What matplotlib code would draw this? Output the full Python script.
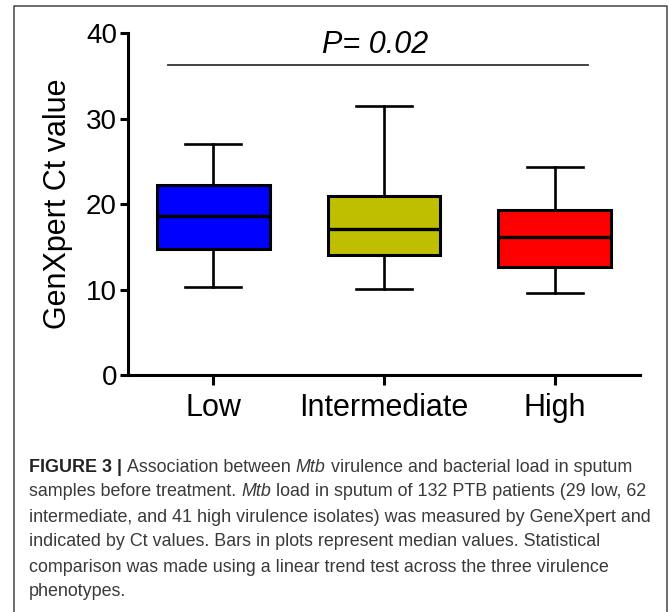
import matplotlib.pyplot as plt
from matplotlib import font_manager
from matplotlib.lines import Line2D

# data (Ct values)
groups = ["Low", "Intermediate", "High"]
whislo = [10.3, 10.1, 9.6]
q1 = [14.8, 14.0, 12.6]
med = [18.6, 17.1, 16.1]
q3 = [22.2, 21.0, 19.3]
whishi = [27.0, 31.5, 24.3]
colors = ["#0000ff", "#bfbf00", "#ff0000"]
p_text = "P= 0.02"

caption_lines = [
    [("FIGURE 3 | ", "bold"), ("Association between ", ""), ("Mtb", "italic"),
     (" virulence and bacterial load in sputum", "")],
    [("samples before treatment. ", ""), ("Mtb", "italic"),
     (" load in sputum of 132 PTB patients (29 low, 62", "")],
    [("intermediate, and 41 high virulence isolates) was measured by GeneXpert and", "")],
    [("indicated by Ct values. Bars in plots represent median values. Statistical", "")],
    [("comparison was made using a linear trend test across the three virulence", "")],
    [("phenotypes.", "")],
]

plt.rcParams['font.family'] = ['Liberation Sans', 'DejaVu Sans']
names = {f.name for f in font_manager.fontManager.ttflist}
if 'Liberation Sans Narrow' in names:
    cap_font, cap_size = 'Liberation Sans Narrow', 14.2
else:
    cap_font, cap_size = 'Liberation Sans', 12.9

W, H = 669, 612
fig = plt.figure(figsize=(W / 100, H / 100), dpi=100)
ax = fig.add_axes([128 / W, 1 - 375 / H, 512 / W, (375 - 33.3) / H])

stats = []
for i, g in enumerate(groups):
    stats.append(dict(label=g, whislo=whislo[i], q1=q1[i], med=med[i],
                      q3=q3[i], whishi=whishi[i], fliers=[]))

bp = ax.bxp(stats, positions=[1, 2, 3], widths=0.66, patch_artist=True,
            showfliers=False,
            boxprops=dict(linewidth=2.2, edgecolor='black'),
            medianprops=dict(color='black', linewidth=2.4),
            whiskerprops=dict(color='black', linewidth=1.9),
            capprops=dict(color='black', linewidth=1.9))
for patch, c in zip(bp['boxes'], colors):
    patch.set_facecolor(c)

ax.set_xlim(0.5, 3.5)
ax.set_ylim(0, 40)
ax.set_yticks([0, 10, 20, 30, 40])
ax.spines['top'].set_visible(False)
ax.spines['right'].set_visible(False)
ax.spines['left'].set_linewidth(2.2)
ax.spines['bottom'].set_linewidth(2.2)
ax.tick_params(axis='y', length=6, width=2.2, labelsize=20, pad=2)
ax.tick_params(axis='x', length=7, width=2.2, labelsize=22, pad=6)
ax.set_ylabel("GenXpert Ct value", fontsize=22, labelpad=9)

# trend line and p value
ax.plot([0.734, 3.195], [36.3, 36.3], color='#333333', linewidth=1.3)
ax.text(1.95, 38.6, p_text, ha='center', va='center', fontsize=22, style='italic')

# frame around figure + caption (open at the bottom)
fig.add_artist(Line2D([14 / W, 14 / W, 667 / W, 667 / W],
                      [0, 1 - 6 / H, 1 - 6 / H, 0],
                      transform=fig.transFigure, color='#444444', linewidth=1.1))

y0 = 467
for k, line in enumerate(caption_lines):
    y = 1 - (y0 + 25 * k) / H
    prev = None
    for txt, st in line:
        kw = dict(fontsize=cap_size, family=cap_font,
                  color='#222222' if st == 'bold' else '#3a3a3a',
                  fontweight='bold' if st == 'bold' else 'normal',
                  fontstyle='italic' if st == 'italic' else 'normal')
        if prev is None:
            prev = fig.text(29 / W, y, txt, ha='left', va='center', **kw)
        else:
            prev = ax.annotate(txt, xy=(1, 0), xycoords=prev, ha='left',
                               va='bottom', annotation_clip=False, **kw)

plt.savefig("out.png", dpi=100)
